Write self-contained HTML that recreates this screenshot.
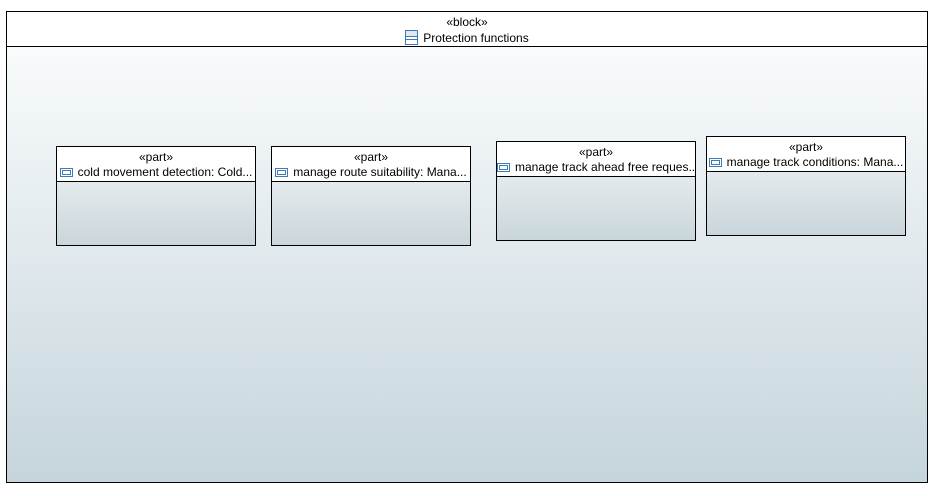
<!DOCTYPE html>
<html><head><style>
body{margin:0;width:941px;height:496px;background:#fff;position:relative;font-family:"Liberation Sans",sans-serif;font-size:12px;color:#000;overflow:hidden}
.outer{position:absolute;left:6px;top:11px;width:920px;height:470px;border:1px solid #000;background:linear-gradient(#fdfefe,#c5d5dc)}
.hdr{position:absolute;left:0;top:0;width:920px;height:35px;border-bottom:1px solid #000;background:#fff;text-align:center;line-height:15px;padding-top:3px;box-sizing:border-box}
.part{position:absolute;width:198px;height:98px;border:1px solid #000;background:linear-gradient(#f2f5f6,#c9d6db)}
.ph{height:35px;border-bottom:1px solid #000;background:#fff;text-align:center;line-height:15px;padding-top:3px;box-sizing:border-box;white-space:nowrap;overflow:hidden}
.ic{display:inline-block;width:11px;height:7px;border:1px solid #3d7ab8;vertical-align:-1px;margin-right:5px;position:relative}
.ic:after{content:"";position:absolute;left:1px;top:1px;width:7px;height:3px;border:1px solid #3d7ab8}
.bi{display:inline-block;width:11px;height:13px;border:1px solid #3d7ab8;vertical-align:-3px;margin-right:5px;background:linear-gradient(#dce9f5 0 5px,#3d7ab8 5px 6px,#fff 6px 8px,#3d7ab8 8px 9px,#fff 9px)}
</style></head><body>
<div class="outer"><div class="hdr">«block»<br><span class="bi"></span>Protection functions</div></div>
<div class="part" style="left:56px;top:146px"><div class="ph">«part»<br><span class="ic"></span>cold movement detection: Cold...</div></div>
<div class="part" style="left:271px;top:146px"><div class="ph">«part»<br><span class="ic"></span>manage route suitability: Mana...</div></div>
<div class="part" style="left:496px;top:141px"><div class="ph">«part»<br><span class="ic"></span>manage track ahead free reques...</div></div>
<div class="part" style="left:706px;top:136px"><div class="ph">«part»<br><span class="ic"></span>manage track conditions: Mana...</div></div>
</body></html>
